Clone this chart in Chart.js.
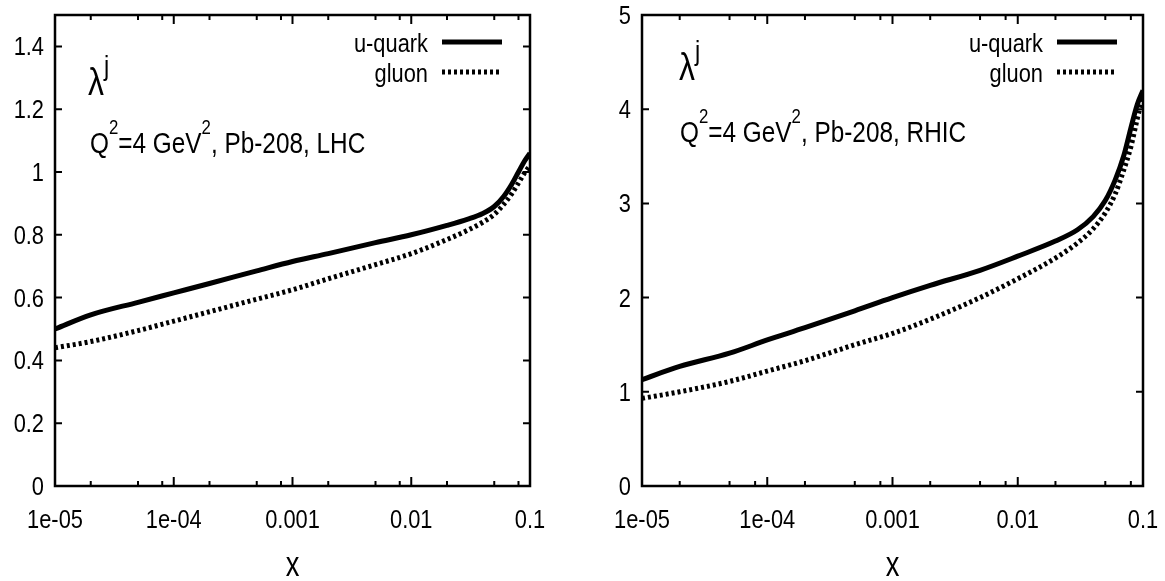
<!DOCTYPE html>
<html>
<head>
<meta charset="utf-8">
<script src="https://cdn.jsdelivr.net/npm/chart.js@4/dist/chart.umd.min.js"></script>
<style>
  html, body { margin: 0; padding: 0; background: #fff; }
  .panel { position: absolute; top: 0; height: 581px; }
</style>
</head>
<body>
<div class="panel" style="left:0;width:583px"><canvas id="lhc" width="583" height="581"></canvas></div>
<div class="panel" style="left:583px;width:582px"><canvas id="rhic" width="582" height="581"></canvas></div>
<script>
// x grid (Bjorken x) shared by all curves
const xVals = [1e-5, 2e-5, 5e-5, 1e-4, 2e-4, 5e-4, 1e-3, 2e-3, 5e-3, 1e-2, 2e-2, 3e-2, 4e-2, 5e-2, 6e-2, 7e-2, 8e-2, 9e-2, 0.1]

// LHC panel
const lhcQuark = [0.50, 0.545, 0.585, 0.615, 0.645, 0.685, 0.715, 0.74, 0.775, 0.80, 0.83, 0.85, 0.868, 0.89, 0.922, 0.96, 1.0, 1.035, 1.06]
const lhcGluon = [0.44, 0.46, 0.495, 0.525, 0.555, 0.595, 0.625, 0.66, 0.705, 0.74, 0.785, 0.815, 0.84, 0.865, 0.897, 0.93, 0.965, 0.997, 1.02]

// RHIC panel
const rhicQuark = [1.13, 1.27, 1.41, 1.55, 1.68, 1.86, 2.0, 2.13, 2.29, 2.44, 2.6, 2.72, 2.86, 3.03, 3.25, 3.5, 3.8, 4.05, 4.2]
const rhicGluon = [0.93, 1.0, 1.11, 1.22, 1.33, 1.5, 1.62, 1.77, 2.0, 2.2, 2.42, 2.58, 2.73, 2.9, 3.1, 3.35, 3.6, 3.9, 4.15]

const xTickValues = [1e-5, 1e-4, 1e-3, 1e-2, 0.1]
const xTickLabels = ['1e-05', '1e-04', '0.001', '0.01', '0.1']
const minorFactors = [2, 5, 8]
const seriesNames = ['u-quark', 'gluon']

const FONT = "'Liberation Sans', Arial, sans-serif"
const SX = 0.84   // narrow look of the original lettering

function pts(ys){ return xVals.map((x, i) => ({ x, y: ys[i] })) }

// horizontally condensed text
function txt(ctx, s, x, y, size, align, sx){
  sx = sx || SX
  ctx.save()
  ctx.font = size + 'px ' + FONT
  ctx.textAlign = align || 'left'
  ctx.translate(x, y)
  ctx.scale(sx, 1)
  ctx.fillText(s, 0, 0)
  const w = ctx.measureText(s).width * sx
  ctx.restore()
  return w
}

// parts = [[text, supSize or 0], ...]; superscripts raised by `rise`
function richText(ctx, parts, x, y, size, rise){
  let cx = x
  parts.forEach(([t, sup]) => {
    cx += txt(ctx, t, cx, sup ? y - rise : y, sup || size, 'left')
  })
}

const fmtY = v => String(parseFloat(v.toFixed(1)))

const framePlugin = {
  id: 'frame',
  afterDraw(chart, args, opts){
    const ctx = chart.ctx
    const a = chart.chartArea
    const xs = chart.scales.x, ys = chart.scales.y
    ctx.save()
    ctx.strokeStyle = '#000'
    ctx.fillStyle = '#000'
    ctx.lineWidth = 2.5
    ctx.strokeRect(a.left, a.top, a.right - a.left, a.bottom - a.top)
    ctx.lineWidth = 2
    ctx.beginPath()
    xTickValues.forEach(v => {
      const px = xs.getPixelForValue(v)
      ctx.moveTo(px, a.bottom); ctx.lineTo(px, a.bottom - 9)
      ctx.moveTo(px, a.top); ctx.lineTo(px, a.top + 9)
      if (v < 0.1) minorFactors.forEach(f => {
        const mx = xs.getPixelForValue(v * f)
        ctx.moveTo(mx, a.bottom); ctx.lineTo(mx, a.bottom - 5)
        ctx.moveTo(mx, a.top); ctx.lineTo(mx, a.top + 5)
      })
    })
    ys.ticks.forEach(t => {
      const py = ys.getPixelForValue(t.value)
      ctx.moveTo(a.left, py); ctx.lineTo(a.left + 7, py)
      ctx.moveTo(a.right, py); ctx.lineTo(a.right - 7, py)
    })
    ctx.stroke()

    // tick labels
    ctx.textBaseline = 'alphabetic'
    xTickValues.forEach((v, i) => txt(ctx, xTickLabels[i], xs.getPixelForValue(v), a.bottom + 42, 26, 'center'))
    ys.ticks.forEach(t => txt(ctx, fmtY(t.value), a.left - 11, ys.getPixelForValue(t.value) + 9, 26, 'right'))
    // axis title
    txt(ctx, 'x', (a.left + a.right) / 2, a.bottom + 90, 35, 'center', 0.78)

    // annotations
    richText(ctx, [['\u03bb', 0], ['j', 28]], opts.lamX, opts.lamY, 38, 20)
    richText(ctx, [['Q', 0], ['2', 20], ['=4 GeV', 0], ['2', 20], [', Pb-208, ' + opts.machine, 0]], opts.textX, opts.textY, 29, 19)

    // legend: label right-aligned, sample line to the right
    chart.data.datasets.forEach((ds, i) => {
      const ly = opts.legY + i * 30
      txt(ctx, ds.label, opts.legX, ly, 26, 'right')
      ctx.beginPath()
      ctx.lineWidth = ds.borderWidth
      ctx.setLineDash(ds.borderDash || [])
      ctx.moveTo(opts.legX + 14, ly - 10); ctx.lineTo(opts.legX + 74, ly - 10)
      ctx.stroke()
    })
    ctx.restore()
  }
}

function makeChart(id, quark, gluon, yMax, yStep, pad, yWidth, ann){
  const ctx = document.getElementById(id).getContext('2d')
  return new Chart(ctx, {
    type: 'line',
    data: {
      datasets: [
        { label: seriesNames[0], data: pts(quark), borderColor: '#000', borderWidth: 5, pointRadius: 0, cubicInterpolationMode: 'monotone' },
        { label: seriesNames[1], data: pts(gluon), borderColor: '#000', borderWidth: 5, borderDash: [3, 3], pointRadius: 0, cubicInterpolationMode: 'monotone' }
      ]
    },
    options: {
      responsive: false,
      animation: false,
      layout: { padding: pad },
      plugins: { legend: { display: false }, tooltip: { enabled: false }, frame: ann },
      scales: {
        x: {
          type: 'logarithmic', min: 1e-5, max: 0.1,
          afterBuildTicks: s => { s.ticks = xTickValues.map(v => ({ value: v })) },
          afterFit: s => { s.height = 95 },
          grid: { display: false, drawTicks: false },
          border: { display: false },
          ticks: { display: false }
        },
        y: {
          min: 0, max: yMax,
          afterBuildTicks: s => { s.ticks = s.ticks.filter(t => Math.abs(t.value / yStep - Math.round(t.value / yStep)) < 1e-6) },
          afterFit: s => { s.width = yWidth },
          grid: { display: false, drawTicks: false },
          border: { display: false },
          ticks: { display: false, stepSize: yStep }
        }
      }
    },
    plugins: [framePlugin]
  })
}

makeChart('lhc', lhcQuark, lhcGluon, 1.5, 0.2, { top: 15, right: 53, left: 0, bottom: 0 }, 55,
  { machine: 'LHC', lamX: 88, lamY: 95, textX: 90, textY: 153, legX: 428, legY: 52 })
makeChart('rhic', rhicQuark, rhicGluon, 5, 1, { top: 15, right: 22, left: 0, bottom: 0 }, 59,
  { machine: 'RHIC', lamX: 96, lamY: 80, textX: 97, textY: 142, legX: 460, legY: 52 })
</script>
</body>
</html>
